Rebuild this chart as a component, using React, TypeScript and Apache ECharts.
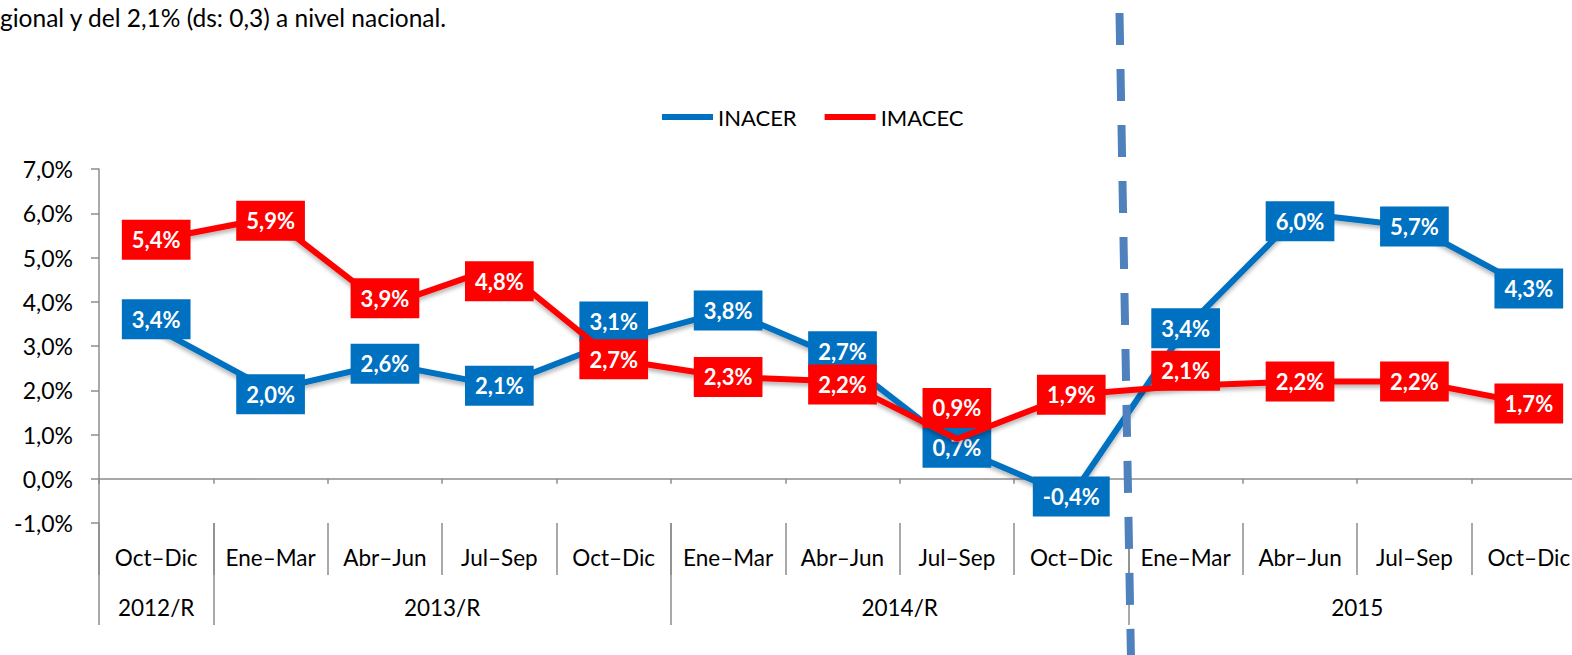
import React, { useEffect, useRef } from "react";
import * as echarts from "echarts";

const months = ["Oct–Dic", "Ene–Mar", "Abr–Jun", "Jul–Sep", "Oct–Dic", "Ene–Mar", "Abr–Jun", "Jul–Sep", "Oct–Dic", "Ene–Mar", "Abr–Jun", "Jul–Sep", "Oct–Dic"];
const yearLabels = ["2012/R", "2013/R", "2014/R", "2015"];
const yearLabelSlots = [1, 6, 14, 22];
const yearBoundarySlots = [0, 2, 10, 18, 26];
const inacer = [3.4, 2.0, 2.6, 2.1, 3.1, 3.8, 2.7, 0.7, -0.4, 3.4, 6.0, 5.7, 4.3];
const imacec = [5.4, 5.9, 3.9, 4.8, 2.7, 2.3, 2.2, 0.9, 1.9, 2.1, 2.2, 2.2, 1.7];
const inacerLabelDy = [-9, 4, 0, 0, -20, 0, -8, 0, 0, 0, 8, 0, 0];
const imacecLabelDy = [0, 3, -8, 15, 0, 0, 3, -31, 0, -15, 0, 0, 0];
const headerText = "gional y del 2,1% (ds: 0,3) a nivel nacional.";

const FONT = "Lato, 'Open Sans', sans-serif";
const BLUE = "#0070C0";
const RED = "#FF0000";
const AXIS = "#8C8C8C";

const fmt = (v: number) => v.toFixed(1).replace(".", ",") + "%";

export default function App() {
  const ref = useRef<HTMLDivElement>(null);
  useEffect(() => {
    if (!ref.current) return;
    const chart = echarts.init(ref.current, null, { renderer: "svg" });
    const yearSlots: string[] = [];
    for (let i = 0; i < 27; i++) {
      const k = yearLabelSlots.indexOf(i);
      yearSlots.push(k >= 0 ? yearLabels[k] : "s" + i);
    }
    const mkData = (vals: number[], dys: number[]) =>
      vals.map((v, i) => ({ value: v, label: { offset: [0, dys[i]] } }));
    const labelStyle = (bg: string) => ({
      show: true,
      position: "inside",
      formatter: (p: any) => fmt(p.value),
      backgroundColor: bg,
      color: "#fff",
      fontFamily: FONT,
      fontWeight: "bold",
      fontSize: 22,
      lineHeight: 23,
      padding: [9, 10, 8, 10],
    });
    chart.setOption({
      animation: false,
      backgroundColor: "#fff",
      textStyle: { fontFamily: FONT },
      legend: {
        left: 657,
        top: 101,
        itemWidth: 51,
        itemHeight: 6,
        itemGap: 28,
        icon: "rect",
        textStyle: { fontFamily: FONT, fontSize: 22, color: "#000" },
        data: ["INACER", "IMACEC"],
      },
      grid: { left: 99, top: 169, width: 1487, height: 354, containLabel: false },
      xAxis: [
        {
          type: "category",
          data: months,
          position: "bottom",
          axisLine: { onZero: true, lineStyle: { color: AXIS, width: 1.5 } },
          axisTick: { show: true, length: 5, lineStyle: { color: AXIS, width: 1.5 } },
          axisLabel: { show: false },
        },
        {
          type: "category",
          data: months,
          position: "bottom",
          axisLine: { show: false, onZero: false },
          axisTick: { show: true, length: 52, lineStyle: { color: AXIS, width: 1.5 } },
          axisLabel: { show: true, margin: 23, fontFamily: FONT, fontSize: 22.5, color: "#000", interval: 0 },
        },
        {
          type: "category",
          data: yearSlots,
          boundaryGap: false,
          position: "bottom",
          axisLine: { show: false, onZero: false },
          axisTick: {
            show: true,
            length: 102,
            interval: (i: number) => yearBoundarySlots.indexOf(i) >= 0,
            lineStyle: { color: AXIS, width: 1.5 },
          },
          axisLabel: {
            show: true,
            margin: 73,
            fontFamily: FONT,
            fontSize: 22.5,
            color: "#000",
            interval: (i: number) => yearLabelSlots.indexOf(i) >= 0,
          },
        },
      ],
      yAxis: {
        type: "value",
        min: -1,
        max: 7,
        interval: 1,
        axisLine: { show: true, lineStyle: { color: AXIS, width: 1.5 } },
        axisTick: { show: true, length: 8, lineStyle: { color: AXIS, width: 1.5 } },
        splitLine: { show: false },
        axisLabel: { margin: 26, fontFamily: FONT, fontSize: 23, color: "#000", formatter: fmt },
      },
      series: [
        {
          name: "INACER",
          type: "line",
          data: mkData(inacer, inacerLabelDy),
          symbol: "circle",
          symbolSize: 1,
          color: BLUE,
          lineStyle: { color: BLUE, width: 6, shadowColor: "rgba(0,0,0,0.3)", shadowBlur: 4, shadowOffsetY: 3 },
          label: labelStyle(BLUE),
          z: 2,
        },
        {
          name: "IMACEC",
          type: "line",
          data: mkData(imacec, imacecLabelDy),
          symbol: "circle",
          symbolSize: 1,
          color: RED,
          lineStyle: { color: RED, width: 6, shadowColor: "rgba(0,0,0,0.3)", shadowBlur: 4, shadowOffsetY: 3 },
          label: labelStyle(RED),
          z: 3,
        },
      ],
      graphic: [
        {
          type: "text",
          left: 0,
          top: 5,
          style: { text: headerText, fontFamily: FONT, fontSize: 24.5, fill: "#000" },
        },
        {
          type: "line",
          z: 100,
          shape: { x1: 1119.5, y1: 13, x2: 1131, y2: 660 },
          style: { stroke: "#4F81BD", lineWidth: 8, lineDash: [32, 24] },
        },
      ],
    });
    return () => chart.dispose();
  }, []);
  return (
    <div style={{ position: "fixed", left: 0, top: 0, width: 1572, height: 655, overflow: "hidden" }}>
      <div ref={ref} style={{ width: 1600, height: 655 }} />
    </div>
  );
}
